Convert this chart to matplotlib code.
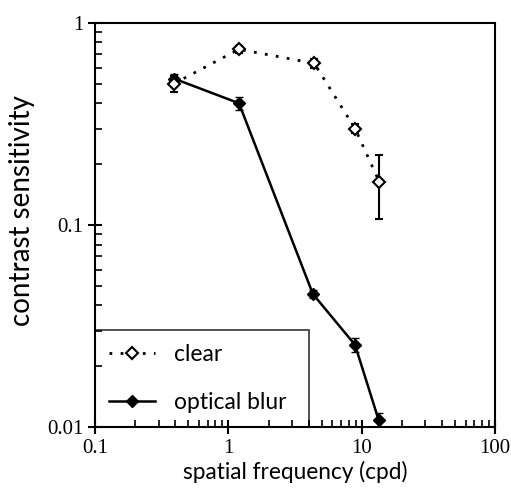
import numpy as np
import matplotlib
matplotlib.use("Agg")
import matplotlib.pyplot as plt
from matplotlib.lines import Line2D
from matplotlib.ticker import FixedLocator, FixedFormatter, LogLocator, NullFormatter
from matplotlib import rcParams
rcParams.update({"font.family": "Liberation Serif", "font.size": 15})

# spatial frequency (cpd)
freq_clear = [0.39, 1.2, 4.4, 8.9, 13.5]
sens_clear = [0.50, 0.74, 0.63, 0.30, 0.164]
err_clear = [0.045, 0.03, 0.03, 0.015, 0.057]

freq_blur = [0.39, 1.2, 4.3, 8.9, 13.4]
sens_blur = [0.53, 0.40, 0.0455, 0.0255, 0.0108]
err_blur = [0.03, 0.03, 0.002, 0.002, 0.001]

x_ticks = [0.1, 1, 10, 100]
x_labels = ["0.1", "1", "10", "100"]
y_ticks = [0.01, 0.1, 1]
y_labels = ["0.01", "0.1", "1"]

CLEAR_STYLE = (0, (1, 3))
LABEL_FONT = "Lato"


def main():
    fig = plt.figure(figsize=(5.11, 4.96), dpi=100)
    ax = fig.add_axes([0.186, 0.139, 0.783, 0.815])

    ax.errorbar(freq_blur, sens_blur, yerr=err_blur, color="black",
                linestyle="-", linewidth=1.8, marker="D", markersize=6.5,
                markerfacecolor="black", capsize=3, elinewidth=1.5, zorder=3)
    ax.errorbar(freq_clear, sens_clear, yerr=err_clear, color="black",
                linestyle=CLEAR_STYLE, linewidth=2, marker="D", markersize=6.5,
                markerfacecolor="white", markeredgewidth=1.5, capsize=3,
                elinewidth=1.5, zorder=4)

    ax.set_xscale("log")
    ax.set_yscale("log")
    ax.set_xlim(0.1, 100)
    ax.set_ylim(0.01, 1)

    for axis, ticks, labels in ((ax.xaxis, x_ticks, x_labels), (ax.yaxis, y_ticks, y_labels)):
        axis.set_major_locator(FixedLocator(ticks))
        axis.set_major_formatter(FixedFormatter(labels))
        axis.set_minor_locator(LogLocator(base=10, subs=np.arange(2, 10)))
        axis.set_minor_formatter(NullFormatter())

    ax.tick_params(which="major", direction="inout", length=10, width=1.5,
                   top=False, right=False, labelsize=15)
    ax.tick_params(which="minor", direction="in", length=5, width=1.2,
                   top=False, right=False)
    for sp in ax.spines.values():
        sp.set_linewidth(1.5)

    ax.set_xlabel("spatial frequency (cpd)", labelpad=2, family=LABEL_FONT,
                  fontsize=16.3)
    ax.set_ylabel("contrast sensitivity", family=LABEL_FONT, fontsize=20)
    ax.yaxis.set_label_coords(-0.15, 0.535)

    handles = [
        Line2D([], [], color="black", linestyle=CLEAR_STYLE, linewidth=2,
               marker="D", markersize=6, markerfacecolor="white",
               markeredgewidth=1.5),
        Line2D([], [], color="black", linestyle="-", linewidth=1.8,
               marker="D", markersize=6, markerfacecolor="black"),
    ]
    leg = ax.legend(handles, ["clear", "optical blur"], loc="lower left",
                    bbox_to_anchor=(0, 0, 0.535, 0.24), mode="expand",
                    borderaxespad=0, fancybox=False, edgecolor="black",
                    labelspacing=1.2, handlelength=2.0,
                    borderpad=0.6, handletextpad=0.85,
                    prop={"family": LABEL_FONT, "size": 16.5})
    leg.get_frame().set_linewidth(1.2)
    leg.get_frame().set_facecolor("none")

    fig.savefig("out.png", dpi=100)


if __name__ == "__main__":
    main()
